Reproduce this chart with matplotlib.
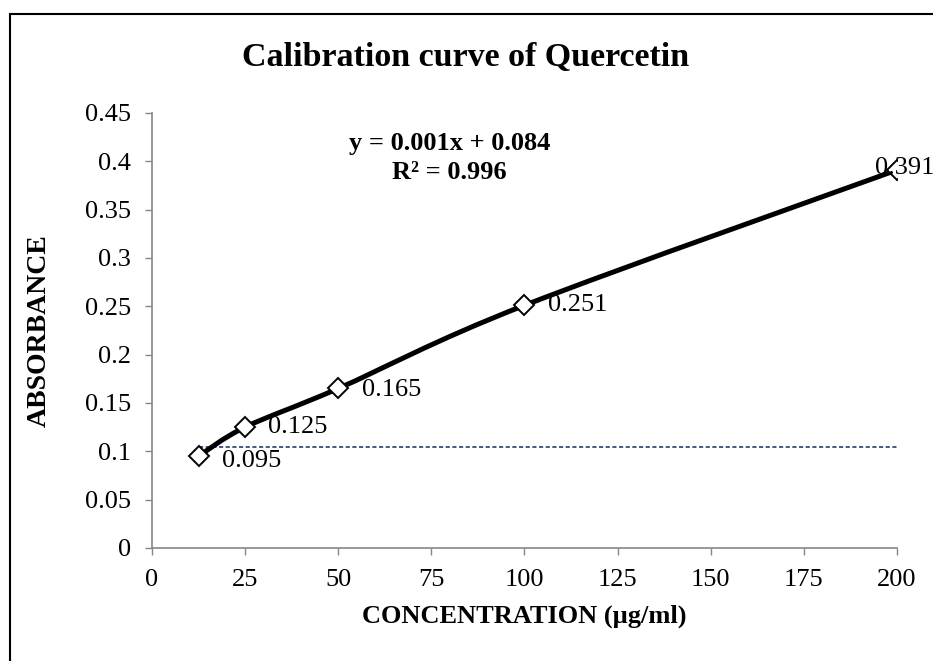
import matplotlib
matplotlib.use("Agg")
import matplotlib.pyplot as plt
from matplotlib.path import Path
from matplotlib.patches import PathPatch, Rectangle

# data
conc = [12.5, 25, 50, 100, 200]
absorb = [0.095, 0.125, 0.165, 0.251, 0.391]
labels = ["0.095", "0.125", "0.165", "0.251", "0.391"]
trend_y = 0.1045
x_ticks = [0, 25, 50, 75, 100, 125, 150, 175, 200]
y_ticks = [0, 0.05, 0.1, 0.15, 0.2, 0.25, 0.3, 0.35, 0.4, 0.45]
y_tick_labels = ["0", "0.05", "0.1", "0.15", "0.2", "0.25", "0.3", "0.35", "0.4", "0.45"]

plt.rcParams['font.family'] = ['Liberation Serif', 'DejaVu Serif']

fig = plt.figure(figsize=(9.33, 6.61), dpi=100)
ax = fig.add_axes([0.1629, 0.1710, 0.7985, 0.6581])

# outer chart border (only left/top visible in reference)
fig.patches.append(Rectangle((10 / 933, -0.05), 1.2, 1 - 14 / 661 + 0.05,
                             transform=fig.transFigure, fill=False,
                             edgecolor='black', lw=1.5))

# smoothed line through the points (catmull-rom -> bezier), like excel's smooth line
verts = [(conc[0], absorb[0])]
codes = [Path.MOVETO]
n = len(conc)
for i in range(n - 1):
    p0 = (conc[i - 1], absorb[i - 1]) if i > 0 else (conc[i], absorb[i])
    p1 = (conc[i], absorb[i])
    p2 = (conc[i + 1], absorb[i + 1])
    p3 = (conc[i + 2], absorb[i + 2]) if i + 2 < n else p2
    c1 = (p1[0] + (p2[0] - p0[0]) / 6, p1[1] + (p2[1] - p0[1]) / 6)
    c2 = (p2[0] - (p3[0] - p1[0]) / 6, p2[1] - (p3[1] - p1[1]) / 6)
    verts += [c1, c2, p2]
    codes += [Path.CURVE4] * 3
ax.add_patch(PathPatch(Path(verts, codes), fill=False, lw=3.6, edgecolor='black',
                       capstyle='round', zorder=3))

# flat trendline
ax.plot([conc[0], conc[-1]], [trend_y, trend_y], color='#27406a', lw=1.2,
        linestyle=(0, (2.5, 1.5)), zorder=2)

ax.plot(conc, absorb, linestyle='none', marker='D', markersize=10,
        markerfacecolor='white', markeredgecolor='black', markeredgewidth=1.4, zorder=4)

offsets = [(23, -5), (23, 0), (24, -2), (24, 0), (-22, 2)]
for x, y, s, off in zip(conc, absorb, labels, offsets):
    ax.annotate(s, (x, y), xytext=off, textcoords='offset pixels',
                ha='left', va='center', fontsize=19, zorder=5)

ax.set_xlim(0, 200)
ax.set_ylim(0, 0.45)
ax.set_xticks(x_ticks)
ax.set_yticks(y_ticks)
ax.set_yticklabels(y_tick_labels)
ax.tick_params(direction='out', length=5, width=1, color='#868686',
               labelsize=19, pad=10)
for side in ['top', 'right']:
    ax.spines[side].set_visible(False)
for side in ['left', 'bottom']:
    ax.spines[side].set_color('#868686')
    ax.spines[side].set_linewidth(1.2)

ax.set_xlabel("CONCENTRATION (µg/ml)", fontsize=19, fontweight='bold', labelpad=10)
ax.set_ylabel("ABSORBANCE", fontsize=20, fontweight='bold', labelpad=24)

fig.text(0.499, 0.913, "Calibration curve of Quercetin", ha='center', va='center',
         fontsize=24.5, fontweight='bold')
ax.text(0.399, 0.897, "y = 0.001x + 0.084\nR² = 0.996", transform=ax.transAxes,
        ha='center', va='center', fontsize=19, fontweight='bold', linespacing=1.33)

fig.savefig("out.png", dpi=100)
